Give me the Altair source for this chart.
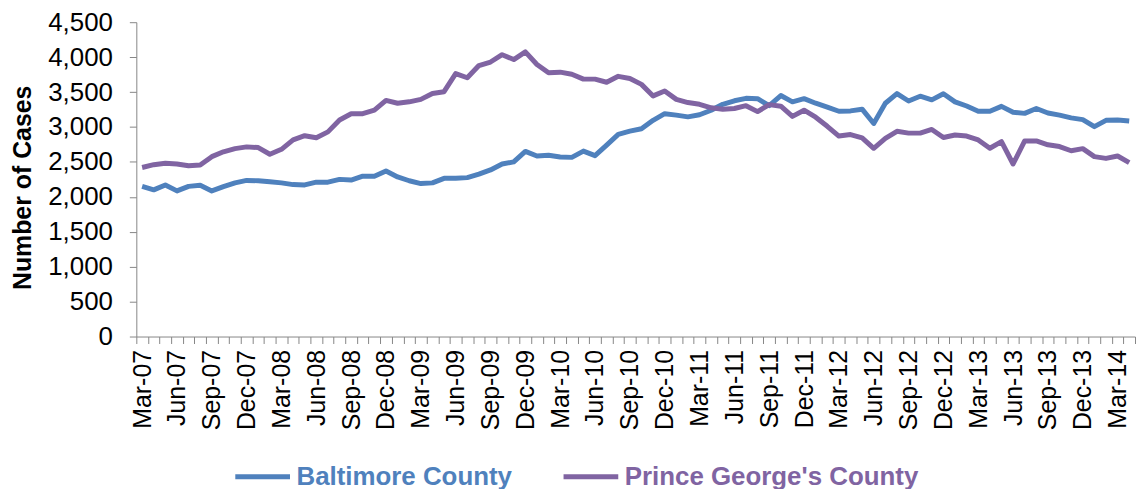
import altair as alt
import pandas as pd

MONTH_NAMES = ["Jan", "Feb", "Mar", "Apr", "May", "Jun", "Jul", "Aug", "Sep", "Oct", "Nov", "Dec"]
months = []
yr, mo = 2007, 2
for _ in range(86):
    months.append(f"{MONTH_NAMES[mo]}-{str(yr)[2:]}")
    mo += 1
    if mo == 12:
        mo = 0
        yr += 1

# labelled months (every third month)
tick_labels = months[::3]

baltimore = [2150, 2100, 2170, 2085, 2150, 2165, 2085, 2145, 2200, 2235,
             2230, 2215, 2200, 2175, 2170, 2210, 2210, 2250, 2240, 2295,
             2295, 2370, 2285, 2230, 2190, 2200, 2265, 2265, 2275, 2325,
             2385, 2470, 2500, 2650, 2585, 2595, 2570, 2565, 2655, 2590,
             2740, 2895, 2940, 2975, 3095, 3190, 3170, 3145, 3175, 3240,
             3325, 3375, 3410, 3405, 3305, 3450, 3360, 3405, 3340, 3285,
             3225, 3230, 3255, 3050, 3340, 3478, 3372, 3440, 3388, 3475,
             3360, 3300, 3225, 3225, 3295, 3210, 3195, 3265, 3200, 3170,
             3130, 3105, 3005, 3095, 3100, 3085]

prince_georges = [2420, 2460, 2480, 2470, 2445, 2455, 2575, 2645, 2690, 2715,
                  2705, 2610, 2680, 2815, 2875, 2845, 2930, 3100, 3190, 3190,
                  3240, 3380, 3340, 3360, 3395, 3480, 3505, 3765, 3705, 3880,
                  3930, 4035, 3965, 4075, 3895, 3775, 3785, 3755, 3685, 3685,
                  3640, 3725, 3695, 3610, 3445, 3515, 3395, 3350, 3325, 3275,
                  3255, 3265, 3305, 3220, 3320, 3298, 3152, 3240, 3140, 3010,
                  2870, 2892, 2845, 2695, 2836, 2938, 2912, 2912, 2965, 2850,
                  2885, 2870, 2815, 2695, 2790, 2470, 2800, 2800, 2745, 2720,
                  2660, 2690, 2575, 2550, 2585, 2490]

series_names = ["Baltimore County", "Prince George's County"]
series_colors = ["#4F81BD", "#8064A2"]
legend_x = [97, 427]

rows = []
for name, vals in zip(series_names, [baltimore, prince_georges]):
    for mth, v in zip(months, vals):
        rows.append({"month": mth, "cases": v, "county": name})
df = pd.DataFrame(rows)

FONT = "Liberation Sans"
label_list = "[" + ",".join("'" + t + "'" for t in tick_labels) + "]"

x_enc = alt.X("month:O", sort=months,
              scale=alt.Scale(type="band", paddingInner=0, paddingOuter=0),
              axis=alt.Axis(title=None, labelAngle=270, labelFontSize=25, labelFont=FONT,
                            labelColor="#000000", labelPadding=6, tickSize=7, tickBand="extent",
                            tickColor="#868686", domainColor="#868686", labelOverlap=False,
                            labelExpr=f"indexof({label_list}, datum.value) >= 0 ? datum.value : ''"))
y_enc = alt.Y("cases:Q", scale=alt.Scale(domain=[0, 4500]),
              axis=alt.Axis(title="Number of Cases", values=list(range(0, 4501, 500)), format=",d",
                            labelFontSize=26, labelFont=FONT, labelColor="#000000",
                            labelPadding=17, tickSize=7, tickColor="#868686", domainColor="#868686",
                            grid=False, titleFont=FONT, titleFontSize=25, titleFontWeight="bold",
                            titleColor="#000000", titleAngle=270, titleX=-114, titleY=166,
                            titleAlign="center", titleBaseline="middle"))

layers = []
for name, color, lx in zip(series_names, series_colors, legend_x):
    layers.append(
        alt.Chart(df).transform_filter(alt.datum.county == name)
        .mark_line(strokeWidth=5, strokeJoin="round")
        .encode(
            x=x_enc, y=y_enc,
            color=alt.Color("county:N", scale=alt.Scale(domain=[name], range=[color]),
                            legend=alt.Legend(title=None, orient="none", legendX=lx, legendY=427,
                                              padding=0, symbolType="stroke", symbolStrokeWidth=5,
                                              symbolSize=3025, labelFont=FONT, labelFontSize=26,
                                              labelFontWeight="bold", labelOffset=4,
                                              labelLimit=500, labelColor=color)),
        )
    )

chart = alt.layer(*layers).resolve_scale(color="independent").properties(
    width=1004, height=316,
    autosize="none",
    padding={"left": 129, "top": 13, "right": 3, "bottom": 152},
).configure_view(stroke=None)

chart.save("out.html", embed_options={"renderer": "svg", "actions": False})
